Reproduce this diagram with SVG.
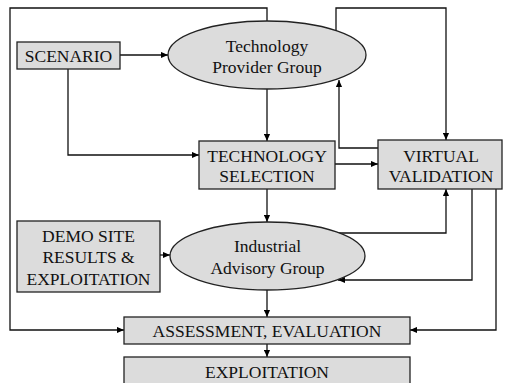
<svg xmlns="http://www.w3.org/2000/svg" width="506" height="383" viewBox="0 0 506 383">
<defs>
<marker id="ah" viewBox="0 0 8 8" refX="8" refY="4" markerWidth="7" markerHeight="7" markerUnits="userSpaceOnUse" orient="auto">
<path d="M0,0.5 L8,4 L0,7.5 Z" fill="#000"/>
</marker>
<style>
.box{fill:#dcdcdc;stroke:#222;stroke-width:1.3}
.t{font-family:"Liberation Serif","Times New Roman",serif;font-size:17.5px;fill:#111;text-anchor:middle}
.c{fill:none;stroke:#111;stroke-width:1.3}
.a{marker-end:url(#ah)}
</style>
</defs>
<rect width="506" height="383" fill="#fff"/>
<g id="connectors">
<path class="c a" d="M120,55 H168"/>
<path class="c a" d="M68,69 V155 H199"/>
<path class="c a" d="M267,89 V141"/>
<path class="c a" d="M335,164 H378"/>
<path class="c a" d="M378,148 H339 V80"/>
<path class="c a" d="M336,32 V8 H446 V140"/>
<path class="c a" d="M267,21 V8 H10 V330 H124"/>
<path class="c a" d="M267,189 V222"/>
<path class="c a" d="M160,255 H170"/>
<path class="c a" d="M337,233 H446 V189"/>
<path class="c a" d="M472,189 V280 H338"/>
<path class="c a" d="M496,189 V330 H410"/>
<path class="c a" d="M267,290 V317"/>
<path class="c a" d="M267,344 V357"/>
</g>
<g id="scenario">
<rect class="box" x="17" y="42" width="103" height="27"/>
<text class="t" x="68.5" y="62">SCENARIO</text>
</g>
<g id="tpg">
<ellipse class="box" cx="267" cy="55" rx="99" ry="34"/>
<text class="t" x="267" y="52">Technology</text>
<text class="t" x="267" y="73">Provider Group</text>
</g>
<g id="techsel">
<rect class="box" x="199" y="141" width="136" height="48"/>
<text class="t" x="267" y="162">TECHNOLOGY</text>
<text class="t" x="267" y="182">SELECTION</text>
</g>
<g id="vv">
<rect class="box" x="378" y="140" width="124" height="49"/>
<text class="t" x="441" y="162">VIRTUAL</text>
<text class="t" x="441" y="182">VALIDATION</text>
</g>
<g id="demo">
<rect class="box" x="17" y="221" width="143" height="71"/>
<text class="t" x="88.5" y="242">DEMO SITE</text>
<text class="t" x="88.5" y="263">RESULTS &amp;</text>
<text class="t" x="88.5" y="285">EXPLOITATION</text>
</g>
<g id="iag">
<ellipse class="box" cx="267.5" cy="256" rx="97.5" ry="34"/>
<text class="t" x="267.5" y="252">Industrial</text>
<text class="t" x="267.5" y="274">Advisory Group</text>
</g>
<g id="assessment">
<rect class="box" x="124" y="317" width="286" height="27"/>
<text class="t" x="267" y="337">ASSESSMENT, EVALUATION</text>
</g>
<g id="exploitation">
<rect class="box" x="124" y="357" width="286" height="30"/>
<text class="t" x="267" y="378">EXPLOITATION</text>
</g>
</svg>
